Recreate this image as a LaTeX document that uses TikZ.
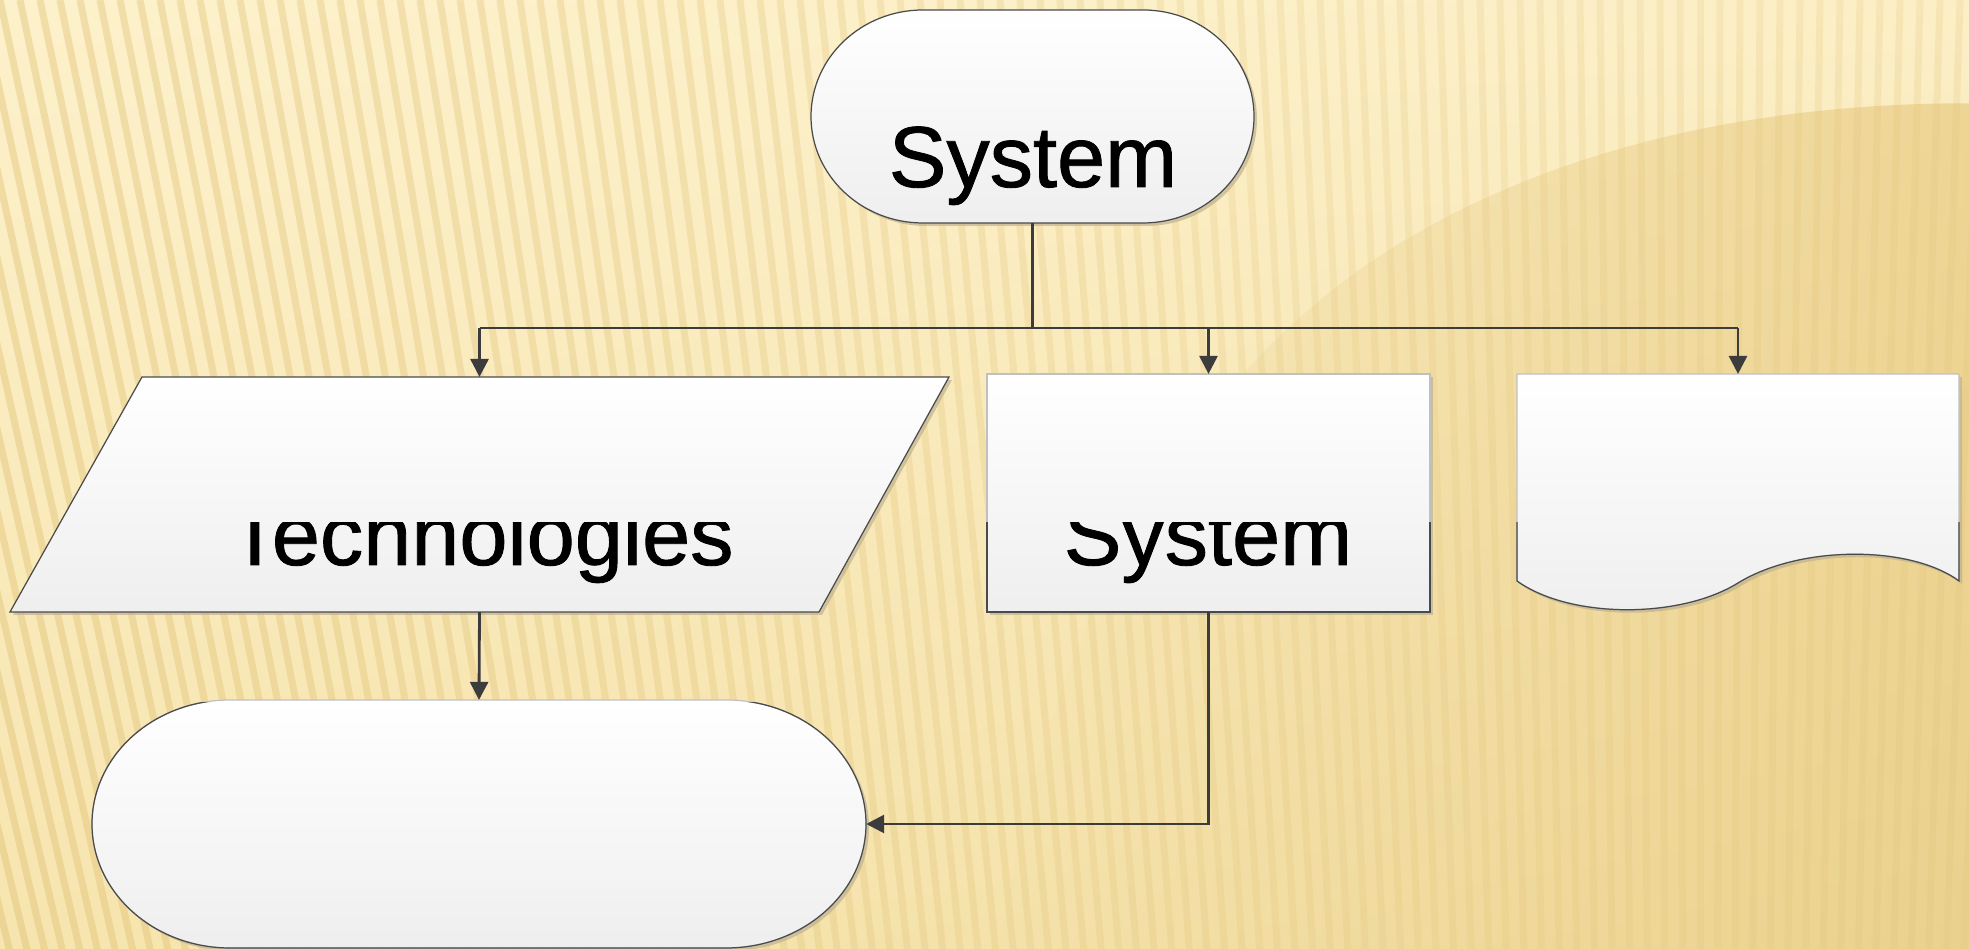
\documentclass[tikz,border=0pt]{standalone}
\usepackage{fontspec}
\setmainfont{Liberation Sans}
\usetikzlibrary{arrows.meta,shadings,fadings}
\font\lblfnt="Liberation Sans:embolden=1" at 24.6pt
\definecolor{bgUL}{HTML}{FDF1CB}
\definecolor{bgUR}{HTML}{FCEFC6}
\definecolor{bgLL}{HTML}{F7E5AF}
\definecolor{bgLR}{HTML}{F3DFA6}
\definecolor{gold}{HTML}{E9CD86}
\definecolor{stripe}{HTML}{E2C47A}
\definecolor{edge}{HTML}{4A4A4A}
\definecolor{conncol}{HTML}{3C3C3C}
\definecolor{shad}{HTML}{BFB291}
\tikzfading[name=fadeleft, left color=transparent!100, middle color=transparent!35, right color=transparent!0]
\tikzset{
  shapefill/.style={top color=white, bottom color=gray!13},
  shapeedge/.style={draw=edge, line width=0.35pt},
  faintedge/.style={draw=edge!35, line width=0.35pt},
  shadowfill/.style={fill=shad, fill opacity=0.7},
  conn/.style={draw=conncol, line width=0.8pt, -{Triangle[length=0.18cm,width=0.18cm]}},
  busline/.style={draw=conncol, line width=0.8pt},
  anchorbox/.style={inner sep=0pt, outer sep=0pt, draw=none},
  lbl/.style={font=\lblfnt, inner sep=0pt, anchor=base}
}
\def\shpTop{(923,939) -- (1143,939) arc[start angle=90, end angle=-90, x radius=111, y radius=106.5] -- (923,726) arc[start angle=270, end angle=90, x radius=112, y radius=106.5] -- cycle}
\def\shpPar{(142,572) -- (949,572) -- (819,337) -- (10,337) -- cycle}
\def\shpRect{(987,575) rectangle (1430,337)}
\def\shpDoc{(1517,575) -- (1959,575) -- (1959,368) .. controls (1910,404) and (1800,404) .. (1738,366) .. controls (1680,330) and (1570,330) .. (1517,368) -- cycle}
\def\shpBot{(230,249) -- (726,249) arc[start angle=90, end angle=-90, x radius=140, y radius=124] -- (230,1) arc[start angle=270, end angle=90, x radius=138, y radius=124] -- cycle}
\begin{document}
\begin{tikzpicture}[x=0.01cm,y=0.01cm]
\useasboundingbox (0,0) rectangle (1969,949);
% background
\begin{scope}
  \clip (0,0) rectangle (1969,949);
  \shade[upper left=bgUL, upper right=bgUR, lower left=bgLL, lower right=bgLR] (0,0) rectangle (1969,949);
  \fill[gold, fill opacity=0.75, path fading=fadeleft]
    (1969,846) .. controls (1750,846) and (1550,800) .. (1390,700)
    .. controls (1200,580) and (1050,350) .. (1000,0) -- (1969,0) -- cycle;
  \foreach \i in {-30,...,110} {
    \pgfmathsetmacro\op{max(0.22,0.45-0.0035*\i)}
    \draw[stripe, line width=0.07cm, opacity=\op] (\i*20,949) -- (1700,-7000);
  }
\end{scope}
% shadows
\begin{scope}[shift={(3,-3)}]
  \fill[shadowfill] \shpTop;
  \fill[shadowfill] \shpPar;
  \fill[shadowfill] \shpRect;
  \fill[shadowfill] \shpDoc;
  \fill[shadowfill] \shpBot;
\end{scope}
% shapes
\path[shapefill] \shpTop;
\draw[shapeedge] \shpTop;
\path[shapefill] \shpPar;
\draw[shapeedge] \shpPar;
\path[shapefill] \shpRect;
\draw[faintedge] \shpRect;
\path[shapefill] \shpDoc;
\draw[faintedge] \shpDoc;
\path[shapefill] \shpBot;
\draw[faintedge] \shpBot;
\begin{scope}
  \clip (0,0) rectangle (1969,246);
  \draw[shapeedge] \shpBot;
\end{scope}
\begin{scope}
  \clip (0,0) rectangle (1969,426);
  \draw[shapeedge] \shpRect;
  \draw[shapeedge] \shpDoc;
\end{scope}
% named nodes
\node[anchorbox, minimum width=4.43cm, minimum height=2.13cm] (sys) at (1032.5,832.5) {};
\node[anchorbox, minimum width=9.39cm, minimum height=2.35cm] (tech) at (479.5,454.5) {};
\node[anchorbox, minimum width=4.43cm, minimum height=2.38cm] (sys2) at (1208.5,456) {};
\node[anchorbox, minimum width=4.42cm, minimum height=2.07cm] (doc) at (1738,471.5) {};
\node[anchorbox, minimum width=7.74cm, minimum height=2.48cm] (term) at (479,125) {};
% texts
\node[lbl] (sysT) at (1033,762) {System};
\begin{scope}
  \clip (0,0) rectangle (1969,426);
  \node[lbl] (techT) at (481,384) {Technologies};
  \node[lbl] (sys2T) at (1208,384) {System};
\end{scope}
% connectors
\draw[busline] (sys.south) -- ++(0,-105) coordinate (j);
\draw[busline] (tech.north |- j) -- (doc.north |- j);
\draw[conn] (tech.north |- j) -- (tech.north);
\draw[conn] (sys2.north |- j) -- (sys2.north);
\draw[conn] (doc.north |- j) -- (doc.north);
\draw[conn] (tech.south) -- (term.north);
\draw[conn] (sys2.south) |- (term.east);
\end{tikzpicture}
\end{document}
